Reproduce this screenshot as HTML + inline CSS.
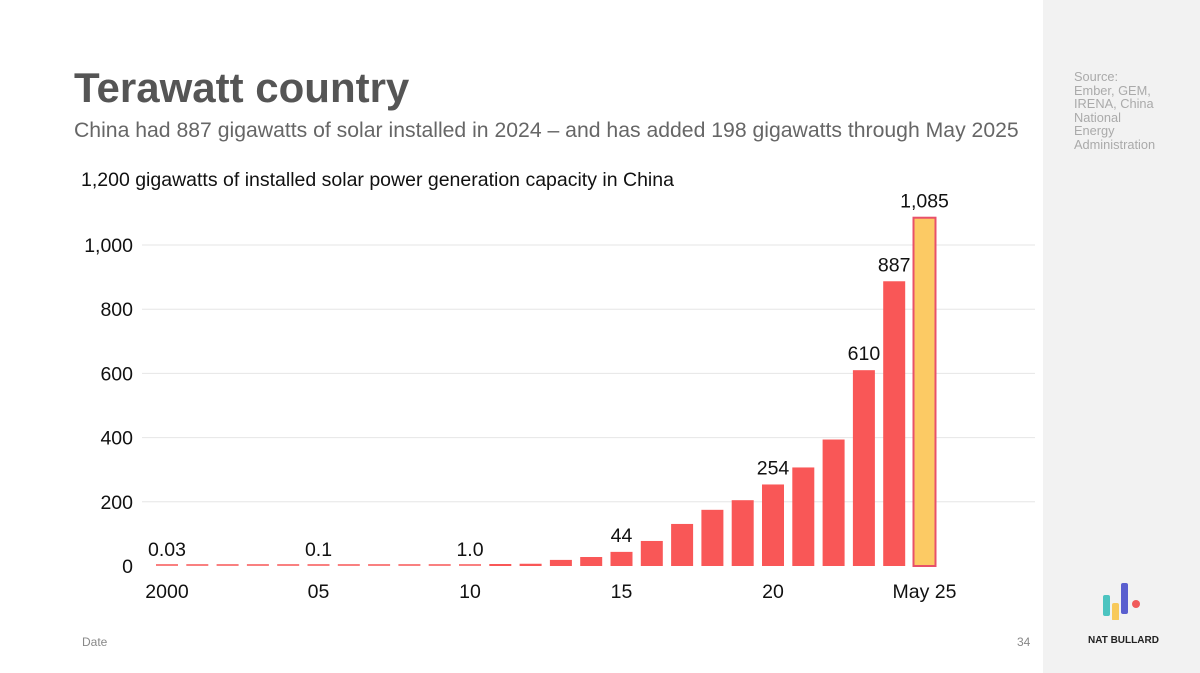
<!DOCTYPE html>
<html><head><meta charset="utf-8"><style>
body{margin:0;width:1200px;height:673px;overflow:hidden;background:#fff;font-family:"Liberation Sans",sans-serif;position:relative}
.side{position:absolute;left:1043px;top:0;width:157px;height:673px;background:#f2f2f2}
.t{position:absolute;white-space:nowrap}
</style></head><body>
<div class="side"></div>
<div class="t" style="left:74px;top:64px;font-size:42px;font-weight:bold;color:#555">Terawatt country</div>
<div class="t" style="left:74px;top:119px;font-size:21.2px;color:#666">China had 887 gigawatts of solar installed in 2024 – and has added 198 gigawatts through May 2025</div>
<div class="t" style="left:1074px;top:70px;font-size:12.8px;line-height:13.5px;color:#aaa">Source:<br>Ember, GEM,<br>IRENA, China<br>National<br>Energy<br>Administration</div>
<div class="t" style="left:82px;top:635px;font-size:12px;color:#888">Date</div>
<div class="t" style="left:1017px;top:635px;font-size:12px;color:#888">34</div>
<svg style="position:absolute;left:1100px;top:580px" width="44" height="40">
<rect x="3" y="15" width="7" height="21" rx="2" fill="#4cc4c0"/><rect x="12" y="23" width="7" height="18" rx="2" fill="#f8c95a"/><rect x="21" y="3" width="7" height="31" rx="2" fill="#5a5fcf"/><circle cx="36" cy="24" r="4" fill="#f05a5a"/></svg>
<div class="t" style="left:1088px;top:635px;font-size:10px;font-weight:bold;color:#222">NAT BULLARD</div>
<svg id="chart" style="position:absolute;left:0;top:0" width="1043" height="673"></svg>
<script>
const categories=["2000","2001","2002","2003","2004","2005","2006","2007","2008","2009","2010","2011","2012","2013","2014","2015","2016","2017","2018","2019","2020","2021","2022","2023","2024","May 25"];
const values=[0.03,0.04,0.05,0.06,0.07,0.1,0.12,0.15,0.2,0.4,1.0,3,7,19,28,44,78,131,175,205,254,307,394,610,887,1085];
const labeled={"0":"0.03","5":"0.1","10":"1.0","15":"44","20":"254","23":"610","24":"887","25":"1,085"};
const yTicks=[0,200,400,600,800,1000];
const yTickLabels=["0","200","400","600","800","1,000"];
const xTickIdx=[0,5,10,15,20,25];
const xTickLabels=["2000","05","10","15","20","May 25"];
const NS="http://www.w3.org/2000/svg",svg=document.getElementById("chart");
const y=v=>566-v*0.321, x=i=>167+i*30.3;
function mk(t,a){const e=document.createElementNS(NS,t);for(const k in a)e.setAttribute(k,a[k]);svg.appendChild(e);return e;}
let e=mk("text",{x:81,y:186,"font-size":19.5,fill:"#111"});e.textContent="1,200 gigawatts of installed solar power generation capacity in China";


yTicks.forEach((v,i)=>{
 if(v>0){const g=mk("line",{x1:142,x2:1035,y1:y(v),y2:y(v),stroke:"#e6e6e6"});
 
 }
 const t=mk("text",{x:133,y:y(v)+7,"text-anchor":"end","font-size":19.5,fill:"#111"});t.textContent=yTickLabels[i];
 
 
});
values.forEach((v,i)=>{
 const h=Math.max(2,v*0.321),last=i===values.length-1;
 const r=mk("rect",{x:x(i)-11,y:566-h,width:22,height:h,fill:last?"#fcca64":(v<2?"#f98080":"#f95757"),stroke:last?"#e8506a":"none","stroke-width":2});
 
 
 if(labeled[i]){const t=mk("text",{x:x(i),y:566-h-10,"text-anchor":"middle","font-size":19.5,fill:"#111"});
 if(v<5)t.setAttribute("y",556);
 t.textContent=labeled[i];
 
 }
});
xTickIdx.forEach((idx,i)=>{
 const t=mk("text",{x:x(idx),y:598,"text-anchor":"middle","font-size":19.5,fill:"#111"});t.textContent=xTickLabels[i];
 
 
});
</script>
</body></html>
